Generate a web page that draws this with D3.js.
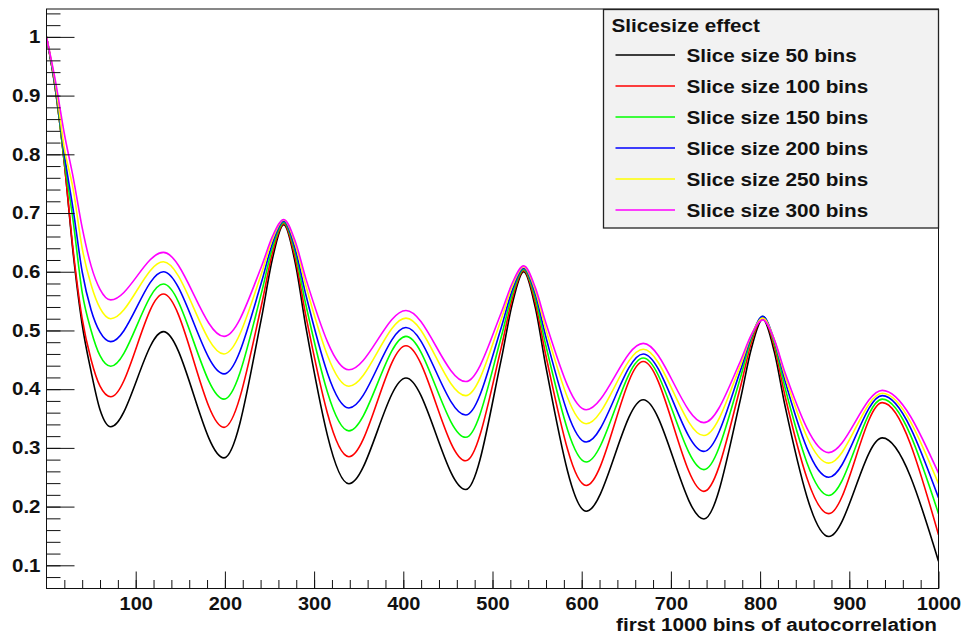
<!DOCTYPE html>
<html>
<head>
<meta charset="utf-8">
<script src="https://cdn.jsdelivr.net/npm/d3@7"></script>
<style>
  html, body { margin: 0; padding: 0; background: #fff; }
  svg { display: block; }
  text { font-family: "Liberation Sans", Arial, Helvetica, sans-serif; font-weight: bold; fill: #111; }
</style>
</head>
<body>
<svg id="chart" width="964" height="634"></svg>
<script>
// ---------------- data ----------------
const bins = [0,10,20,30,40,50,60,72,131,199,241,253,266,279,291,339,403,470,510,522,535,548,560,605,669,737,778,790,803,816,828,877,937,1000];

const slice50  = [1.000,0.910,0.785,0.630,0.510,0.430,0.365,0.336, 0.498,0.283, 0.521,0.620,0.680,0.614,0.504, 0.239,0.419,0.229, 0.452,0.544,0.600,0.539,0.437, 0.192,0.382,0.179, 0.383,0.468,0.519,0.463,0.371, 0.149,0.317,0.107];
const slice100 = [1.000,0.910,0.785,0.635,0.520,0.450,0.405,0.387, 0.562,0.335, 0.543,0.630,0.682,0.622,0.523, 0.285,0.474,0.278, 0.472,0.553,0.602,0.547,0.456, 0.236,0.447,0.226, 0.404,0.478,0.522,0.472,0.388, 0.188,0.377,0.152];
const slice150 = [1.000,0.912,0.790,0.685,0.565,0.500,0.457,0.439, 0.579,0.383, 0.564,0.639,0.684,0.631,0.542, 0.329,0.490,0.318, 0.490,0.561,0.604,0.555,0.473, 0.276,0.453,0.263, 0.420,0.485,0.524,0.478,0.402, 0.219,0.383,0.188];
const slice200 = [1.000,0.915,0.800,0.705,0.600,0.535,0.497,0.481, 0.600,0.426, 0.582,0.647,0.686,0.638,0.559, 0.368,0.505,0.356, 0.506,0.568,0.606,0.562,0.488, 0.310,0.460,0.294, 0.432,0.489,0.524,0.483,0.414, 0.250,0.389,0.215];
const slice250 = [1.000,0.920,0.810,0.740,0.640,0.578,0.538,0.520, 0.617,0.460, 0.597,0.654,0.688,0.646,0.575, 0.405,0.521,0.389, 0.520,0.575,0.608,0.568,0.501, 0.341,0.468,0.321, 0.441,0.491,0.521,0.484,0.422, 0.274,0.393,0.239];
const slice300 = [1.000,0.925,0.835,0.760,0.675,0.610,0.570,0.552, 0.633,0.490, 0.609,0.659,0.689,0.651,0.587, 0.433,0.534,0.413, 0.531,0.580,0.610,0.573,0.512, 0.365,0.478,0.343, 0.448,0.492,0.518,0.484,0.428, 0.292,0.398,0.257];

const seriesNames  = ["Slice size 50 bins","Slice size 100 bins","Slice size 150 bins","Slice size 200 bins","Slice size 250 bins","Slice size 300 bins"];
const seriesColors = ["#000000","#ff0000","#00ff00","#0000ff","#ffff00","#ff00ff"];
const seriesValues = [slice50, slice100, slice150, slice200, slice250, slice300];

const xTickValues = [100,200,300,400,500,600,700,800,900,1000];
const yTickValues = [0.1,0.2,0.3,0.4,0.5,0.6,0.7,0.8,0.9,1];
const legendTitle = "Slicesize effect";
const xTitle = "first 1000 bins of autocorrelation";

// ---------------- layout ----------------
const svg = d3.select("#chart");
const L = 46.5, R = 938.5, T = 9, B = 588.5;

const x = d3.scaleLinear().domain([0, 1000]).range([L, R]);
const y = d3.scaleLinear().domain([0.0605, 1.0475]).range([B, T]);

svg.append("defs").append("clipPath").attr("id","plotclip")
  .append("rect").attr("x", L).attr("y", T).attr("width", R - L).attr("height", B - T);

const line = d3.line()
  .x((d, i) => x(bins[i]))
  .y(d => y(d))
  .curve(d3.curveMonotoneX);

const gCurves = svg.append("g").attr("clip-path", "url(#plotclip)");
seriesValues.forEach((vals, k) => {
  gCurves.append("path")
    .attr("d", line(vals))
    .attr("fill", "none")
    .attr("stroke", seriesColors[k])
    .attr("stroke-width", 1.6)
    .attr("stroke-linejoin", "round");
});

// frame
svg.append("rect")
  .attr("x", L).attr("y", T).attr("width", R - L).attr("height", B - T)
  .attr("fill", "none").attr("stroke", "#111").attr("stroke-width", 1);

// y minor ticks
const yMinor = d3.range(4, 53).map(i => +(i * 0.02).toFixed(2)).filter(v => v >= 0.0605 && v <= 1.0475);
svg.append("g").attr("transform", `translate(${L},0)`)
  .call(d3.axisLeft(y).tickValues(yMinor).tickSizeInner(-14).tickSizeOuter(0).tickFormat(""))
  .call(g => g.select(".domain").remove())
  .call(g => g.selectAll("line").attr("stroke", "#111"));

// y major ticks + labels
svg.append("g").attr("transform", `translate(${L},0)`)
  .call(d3.axisLeft(y).tickValues(yTickValues).tickSizeInner(-28).tickSizeOuter(0).tickPadding(6)
        .tickFormat(d => d === 1 ? "1" : d3.format(".1f")(d)))
  .call(g => g.select(".domain").remove())
  .call(g => g.selectAll("line").attr("stroke", "#111"))
  .call(g => g.selectAll("text")
      .attr("font-size", 18).attr("fill", "#111")
      .attr("font-family", null)
      .each(function() {
        const tx = +this.getAttribute("x");
        d3.select(this).attr("x", 0).attr("transform", `translate(${tx},0) scale(1.14,1)`);
      }));

// x minor ticks
const xMinor = d3.range(1, 50).map(i => i * 20);
svg.append("g").attr("transform", `translate(0,${B})`)
  .call(d3.axisBottom(x).tickValues(xMinor).tickSizeInner(-8.5).tickSizeOuter(0).tickFormat(""))
  .call(g => g.select(".domain").remove())
  .call(g => g.selectAll("line").attr("stroke", "#111"));

// x major ticks + labels
svg.append("g").attr("transform", `translate(0,${B})`)
  .call(d3.axisBottom(x).tickValues(xTickValues).tickSizeInner(-17).tickSizeOuter(0).tickPadding(8)
        .tickFormat(d3.format("d")))
  .call(g => g.select(".domain").remove())
  .call(g => g.selectAll("line").attr("stroke", "#111"))
  .call(g => g.selectAll("text")
      .attr("font-size", 18.5).attr("fill", "#111")
      .attr("font-family", null)
      .each(function() {
        const ty = +this.getAttribute("y");
        d3.select(this).attr("y", 0).attr("transform", `translate(0,${ty}) scale(1.08,1)`);
      }));

// x title
svg.append("text")
  .attr("text-anchor", "end")
  .attr("font-size", 18.5)
  .attr("transform", `translate(937,631) scale(1.12,1)`)
  .text(xTitle);

// legend
const lg = svg.append("g");
lg.append("rect")
  .attr("x", 603.5).attr("y", 9.5).attr("width", 335).attr("height", 218.5)
  .attr("fill", "#f2f2f2").attr("stroke", "#222").attr("stroke-width", 1.3);
lg.append("text")
  .attr("font-size", 18.5)
  .attr("transform", `translate(611.5,31.5) scale(1.12,1)`)
  .text(legendTitle);

const rowY = d3.scaleLinear().domain([0, 1]).range([55, 86]);
seriesNames.forEach((name, k) => {
  const yy = rowY(k);
  lg.append("line")
    .attr("x1", 615.5).attr("x2", 675).attr("y1", yy).attr("y2", yy)
    .attr("stroke", seriesColors[k]).attr("stroke-width", 1.3);
  lg.append("text")
    .attr("font-size", 19)
    .attr("dy", "0.36em")
    .attr("transform", `translate(686.5,${yy}) scale(1.09,1)`)
    .text(name);
});
</script>
</body>
</html>
